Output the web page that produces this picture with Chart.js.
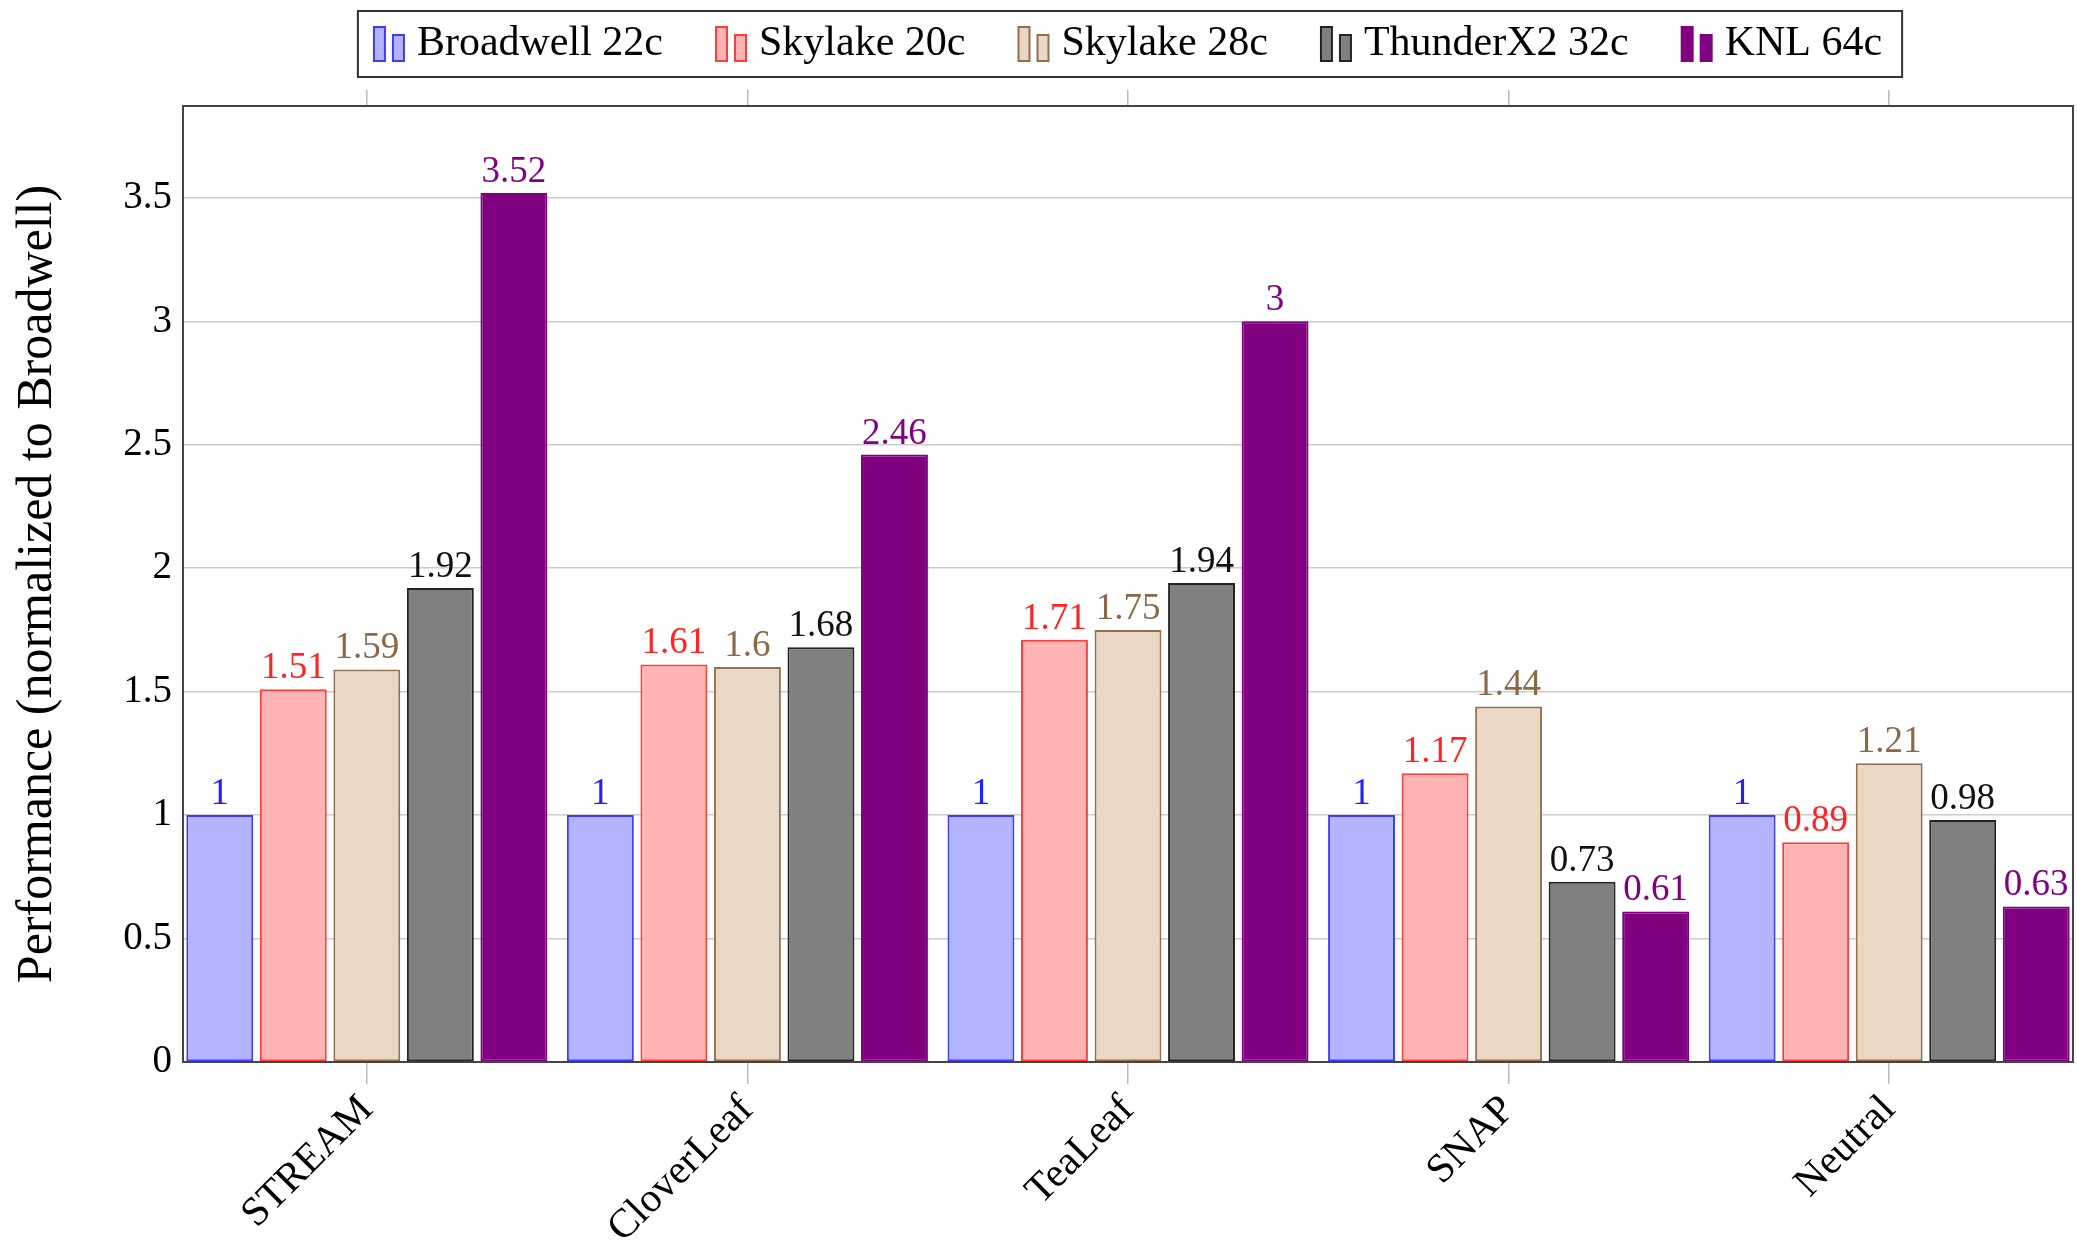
<!DOCTYPE html>
<html>
<head>
<meta charset="utf-8">
<script src="https://cdn.jsdelivr.net/npm/chart.js@4.4.1/dist/chart.umd.min.js"></script>
<style>
    html, body { margin: 0; padding: 0; background: #ffffff; }
    canvas { display: block; }
</style>
</head>
<body>
<canvas id="perfChart" width="2077" height="1241"></canvas>
<script>
// Benchmarks on the x axis, one bar per system
const benchmarks = ['STREAM', 'CloverLeaf', 'TeaLeaf', 'SNAP', 'Neutral'];
const systems = ['Broadwell 22c', 'Skylake 20c', 'Skylake 28c', 'ThunderX2 32c', 'KNL 64c'];

// Performance normalized to Broadwell
const broadwell = [1, 1, 1, 1, 1];
const skylake20 = [1.51, 1.61, 1.71, 1.17, 0.89];
const skylake28 = [1.59, 1.6, 1.75, 1.44, 1.21];
const thunderx2 = [1.92, 1.68, 1.94, 0.73, 0.98];
const knl = [3.52, 2.46, 3, 0.61, 0.63];

const yTicks = [0, 0.5, 1, 1.5, 2, 2.5, 3, 3.5];
const yMax = 3.872;

const fills = ['#b3b3ff', '#ffb3b3', '#ead7c4', '#808080', '#800080'];
const borders = ['#3c3cff', '#ff3c3c', '#94704f', '#222222', '#800080'];
const labelColors = ['#1f1fff', '#ff2424', '#8a6848', '#111111', '#800080'];

Chart.defaults.font.family = "'Liberation Serif', 'Times New Roman', serif";
Chart.defaults.color = '#000000';

// legend marker: two little bars like the pgfplots ybar legend
// (blank on the left so the gap before each entry comes out right)
const markerLead = 31;
function makeMarker(fill, stroke) {
    const c = document.createElement('canvas');
    c.width = 75;
    c.height = 38;
    const g = c.getContext('2d');
    g.fillStyle = fill;
    g.strokeStyle = stroke;
    g.lineWidth = 2;
    g.fillRect(42, 2, 11, 34);
    g.strokeRect(42, 2, 11, 34);
    g.fillRect(61, 10, 11, 26);
    g.strokeRect(61, 10, 11, 26);
    return c;
}
const markers = systems.map((s, i) => makeMarker(fills[i], borders[i]));

const seriesValues = [broadwell, skylake20, skylake28, thunderx2, knl];

// pgfplots leaves a bit less than half a group of room at each end
const edgeRoom = 0.483;
function squeezeCategories(scale) {
    scale._startValue = -edgeRoom;
    scale._valueRange = benchmarks.length - 1 + 2 * edgeRoom;
}

// value labels above the bars
const barLabels = {
    id: 'barLabels',
    afterDatasetsDraw(chart) {
        const ctx = chart.ctx;
        const area = chart.chartArea;
        ctx.save();
        ctx.strokeStyle = '#444444';
        ctx.lineWidth = 2;
        ctx.strokeRect(area.left, area.top, area.right - area.left, area.bottom - area.top);
        ctx.font = "37px 'Liberation Serif', serif";
        ctx.textAlign = 'center';
        ctx.textBaseline = 'alphabetic';
        chart.data.datasets.forEach((ds, i) => {
            const meta = chart.getDatasetMeta(i);
            ctx.fillStyle = labelColors[i];
            meta.data.forEach((bar, j) => {
                ctx.fillText(String(ds.data[j]), bar.x, bar.y - 11);
            });
        });
        ctx.restore();
    }
};

// centre the legend on the visible markers and put a frame round it
const legendFrame = {
    id: 'legendFrame',
    afterLayout(chart) {
        const lg = chart.legend;
        const shift = markerLead / 2;
        lg.left -= shift;
        lg.right -= shift;
        lg.legendHitBoxes.forEach(b => { b.left -= shift; });
    },
    afterDraw(chart) {
        const boxes = chart.legend.legendHitBoxes;
        if (!boxes || !boxes.length) return;
        const first = boxes[0];
        const last = boxes[boxes.length - 1];
        const cy = first.top + 21;
        const ctx = chart.ctx;
        ctx.save();
        ctx.strokeStyle = '#333333';
        ctx.lineWidth = 2;
        const x0 = first.left + markerLead - 16;
        const x1 = last.left + last.width + 20;
        ctx.strokeRect(x0, cy - 33, x1 - x0, 66);
        ctx.restore();
    }
};

const ctx = document.getElementById('perfChart').getContext('2d');

new Chart(ctx, {
    type: 'bar',
    data: {
        labels: benchmarks,
        datasets: systems.map((name, i) => ({
            label: name,
            data: seriesValues[i],
            backgroundColor: fills[i],
            borderColor: borders[i],
            borderWidth: 2,
            borderSkipped: false,
            categoryPercentage: 0.966,
            barPercentage: 0.91
        }))
    },
    options: {
        responsive: false,
        animation: false,
        layout: {
            padding: { top: 1, right: 4, bottom: 0, left: 0 }
        },
        plugins: {
            tooltip: { enabled: false },
            legend: {
                position: 'top',
                fullSize: false,
                labels: {
                    usePointStyle: true,
                    pointStyleWidth: 53,
                    padding: 22,
                    color: '#000000',
                    font: { size: 42 },
                    generateLabels: function(chart) {
                        return systems.map((name, i) => ({
                            text: name,
                            pointStyle: markers[i],
                            fillStyle: fills[i],
                            strokeStyle: borders[i],
                            lineWidth: 0,
                            hidden: false,
                            datasetIndex: i
                        }));
                    }
                }
            }
        },
        scales: {
            x: {
                position: 'bottom',
                offset: true,
                grid: {
                    offset: false,
                    drawOnChartArea: false,
                    drawTicks: true,
                    tickLength: 22,
                    color: '#bbbbbb',
                    lineWidth: 1.5
                },
                border: { display: false },
                ticks: {
                    autoSkip: false,
                    minRotation: 45,
                    maxRotation: 45,
                    padding: 2,
                    color: '#000000',
                    font: { size: 41 }
                },
                afterBuildTicks: squeezeCategories,
                afterFit: function(scale) { scale.height = 179; }
            },
            xTop: {
                type: 'category',
                position: 'top',
                offset: true,
                grid: {
                    offset: false,
                    drawOnChartArea: false,
                    drawTicks: true,
                    tickLength: 16,
                    color: '#bbbbbb',
                    lineWidth: 1.5
                },
                border: { display: false },
                ticks: { display: false },
                afterBuildTicks: squeezeCategories,
                afterFit: function(scale) { scale.height = 31; }
            },
            y: {
                min: 0,
                max: yMax,
                grid: {
                    color: '#cccccc',
                    lineWidth: 1.5,
                    drawTicks: false
                },
                border: { display: false },
                ticks: {
                    padding: 11,
                    color: '#000000',
                    font: { size: 39 },
                    callback: function(value) { return String(value); }
                },
                afterBuildTicks: function(scale) {
                    scale.ticks = yTicks.map(v => ({ value: v }));
                },
                title: {
                    display: true,
                    text: 'Performance (normalized to Broadwell)',
                    color: '#000000',
                    font: { size: 50 },
                    padding: { top: 8, bottom: 0 }
                },
                afterFit: function(scale) { scale.width = 183; }
            }
        }
    },
    plugins: [barLabels, legendFrame]
});
</script>
</body>
</html>
